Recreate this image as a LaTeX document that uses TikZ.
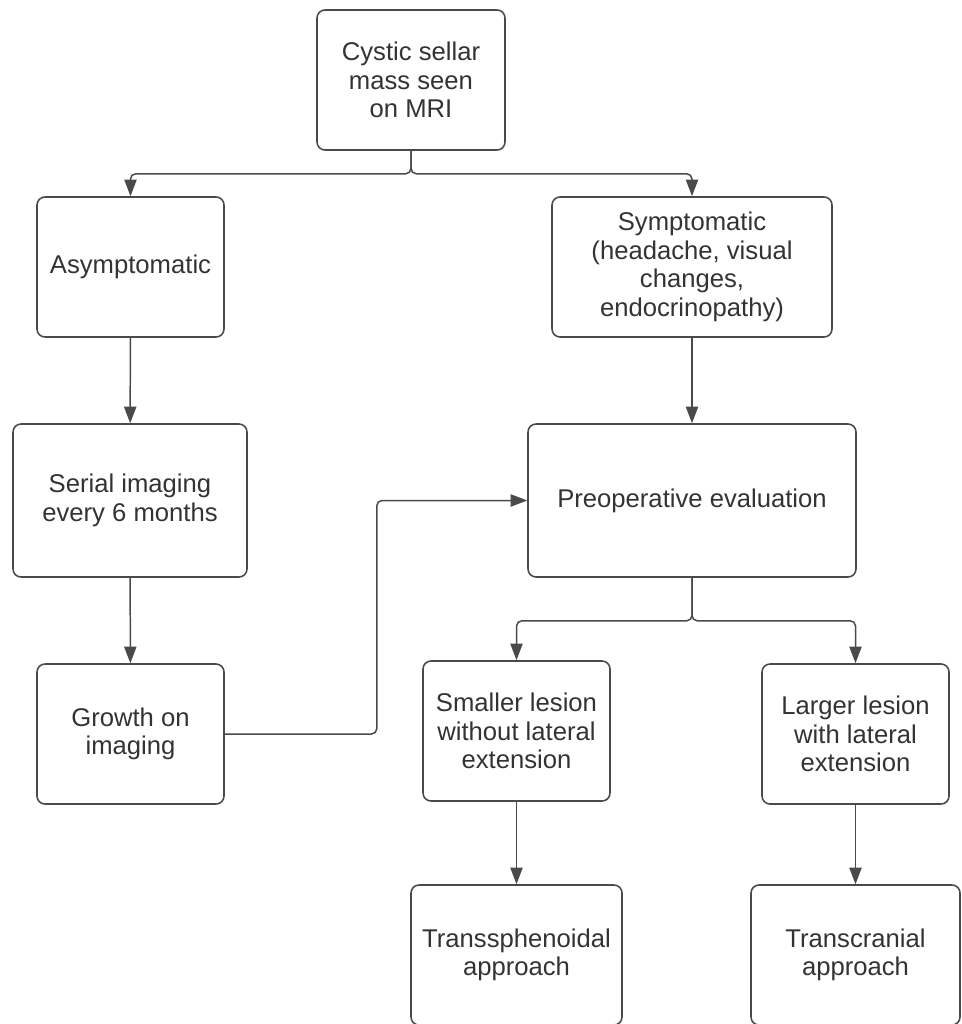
\documentclass[tikz,border=0pt]{standalone}
\usepackage{fontspec}
\setmainfont{Liberation Sans}
\usetikzlibrary{arrows.meta}
\definecolor{linegray}{HTML}{4A4A4A}
\definecolor{textgray}{HTML}{333333}
\tikzset{
  stepbox/.style={draw=linegray, line width=0.9pt, rounded corners=4.5pt, align=center,
    text=textgray, font=\fontsize{14.6}{16.2}\selectfont, inner sep=0pt},
  arr/.style={draw=linegray, line width=0.85pt, rounded corners=3pt,
    -{Triangle[length=9.5pt,width=7pt]}}
}
\begin{document}
\begin{tikzpicture}[x=0.02cm, y=-0.02cm]
  \useasboundingbox (0,0) rectangle (961,1024);
  \clip (0,0) rectangle (961,1024);
  % boxes
  \node[stepbox, minimum width=3.76cm, minimum height=2.8cm] (mri) at (411,80) {Cystic sellar\\mass seen\\on MRI};
  \node[stepbox, minimum width=3.74cm, minimum height=2.8cm] (asym) at (130.5,267) {Asymptomatic};
  \node[stepbox, minimum width=5.6cm, minimum height=2.8cm] (symp) at (692,267) {Symptomatic\\(headache, visual\\changes,\\endocrinopathy)};
  \node[stepbox, minimum width=4.68cm, minimum height=3.06cm] (serial) at (130,500.5) {Serial imaging\\every 6 months};
  \node[stepbox, minimum width=6.56cm, minimum height=3.06cm] (preop) at (692,500.5) {Preoperative evaluation};
  \node[stepbox, minimum width=3.74cm, minimum height=2.8cm] (growth) at (130.5,734) {Growth on\\imaging};
  \node[stepbox, minimum width=3.74cm, minimum height=2.8cm] (smaller) at (516.5,731) {Smaller lesion\\without lateral\\extension};
  \node[stepbox, minimum width=3.74cm, minimum height=2.8cm] (larger) at (855.5,734) {Larger lesion\\with lateral\\extension};
  \node[stepbox, minimum width=4.22cm, minimum height=2.8cm] (transs) at (516.5,955) {Transsphenoidal\\approach};
  \node[stepbox, minimum width=4.18cm, minimum height=2.8cm] (transc) at (855.5,955) {Transcranial\\approach};
  % connectors
  \draw[arr] (mri.south) -- ++(0,23) -| (asym.north);
  \draw[arr] (mri.south) -- ++(0,23) -| (symp.north);
  \draw[arr] (asym) -- (serial);
  \draw[arr] (serial) -- (growth);
  \draw[arr] (symp) -- (preop);
  \draw[arr] (growth.east) -- ++(152,0) |- (preop.west);
  \draw[arr] (preop.south) -- ++(0,43) -| (smaller.north);
  \draw[arr] (preop.south) -- ++(0,43) -| (larger.north);
  \draw[arr] (smaller) -- (transs);
  \draw[arr] (larger) -- (transc);
\end{tikzpicture}
\end{document}
